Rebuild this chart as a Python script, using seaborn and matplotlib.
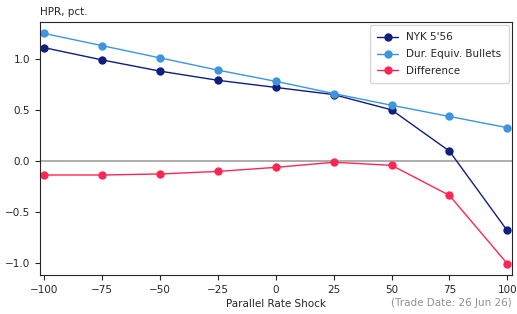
import matplotlib
matplotlib.use("Agg")
import matplotlib.pyplot as plt
import pandas as pd
import seaborn as sns

# Datos
shocks = [-100, -75, -50, -25, 0, 25, 50, 75, 100]
nyk = [1.11, 0.99, 0.88, 0.79, 0.72, 0.65, 0.50, 0.095, -0.685]
bullets = [1.25, 1.13, 1.01, 0.89, 0.78, 0.66, 0.545, 0.435, 0.325]
diff = [-0.14, -0.14, -0.13, -0.105, -0.065, -0.015, -0.045, -0.34, -1.01]

series = ["NYK 5'56", "Dur. Equiv. Bullets", "Difference"]
colors = ["#0f1f7d", "#3d95e0", "#ff2653"]

df = pd.DataFrame({
    "shock": shocks * 3,
    "hpr": nyk + bullets + diff,
    "serie": [series[0]] * 9 + [series[1]] * 9 + [series[2]] * 9,
})

sns.set_style("ticks")
plt.rcParams["font.size"] = 7.5
plt.rcParams["xtick.labelsize"] = 7.5
plt.rcParams["ytick.labelsize"] = 7.5
plt.rcParams["axes.labelsize"] = 7.5
plt.rcParams["legend.fontsize"] = 7.5
plt.rcParams["xtick.major.size"] = 3.5
plt.rcParams["ytick.major.size"] = 3.5

fig, ax = plt.subplots(figsize=(5.17, 3.14), dpi=100)
ax.axhline(0, color="#a0a0a0", lw=1.2, zorder=0)
sns.lineplot(data=df, x="shock", y="hpr", hue="serie", hue_order=series,
             palette=colors, marker="o", markersize=6, markeredgewidth=0,
             linewidth=1.0, ax=ax)

ax.set_xlim(-102, 102)
ax.set_xticks([-100, -75, -50, -25, 0, 25, 50, 75, 100])
ax.set_yticks([-1.0, -0.5, 0.0, 0.5, 1.0])
ax.set_xlabel("Parallel Rate Shock", labelpad=3)
ax.set_ylabel("")
ax.set_title("HPR, pct.", loc="left", fontsize=7.5, pad=5)
ax.legend(title=None, loc="upper right", labelspacing=0.65, borderpad=0.7,
          borderaxespad=0.3)
ax.annotate("(Trade Date: 26 Jun 26)", xy=(1.0, -0.11), xycoords="axes fraction",
            ha="right", va="center", color="#909090", fontsize=7.5)

plt.subplots_adjust(left=0.077, right=0.99, top=0.93, bottom=0.124)
plt.savefig("out.png", dpi=100)
plt.close()
